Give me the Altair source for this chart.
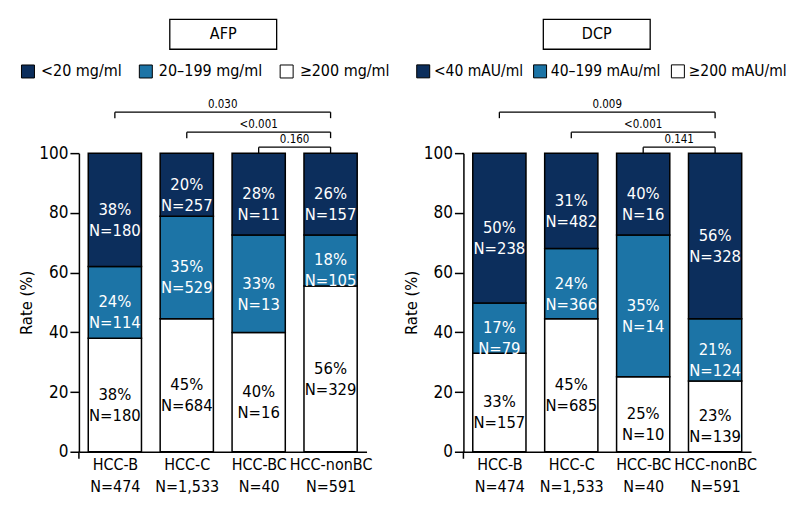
import json
import altair as alt
import pandas as pd

FONT = "DejaVu Sans Condensed"
DARK = "#0c2e5c"
MID = "#1c74a6"

groups = ["HCC-B", "HCC-C", "HCC-BC", "HCC-nonBC"]
group_n = ["N=474", "N=1,533", "N=40", "N=591"]

# AFP panel (heights as drawn, labels as printed)
afp_levels = ["<20 mg/ml", "20\u2013199 mg/ml", "\u2265200 mg/ml"]
afp_low = [38.0, 21.1, 27.4, 27.4]
afp_mid = [24.0, 34.4, 32.7, 17.1]
afp_high = [38.0, 44.5, 39.9, 55.5]
afp_low_pct = ["38%", "20%", "28%", "26%"]
afp_low_n = [180, 257, 11, 157]
afp_mid_pct = ["24%", "35%", "33%", "18%"]
afp_mid_n = [114, 529, 13, 105]
afp_high_pct = ["38%", "45%", "40%", "56%"]
afp_high_n = [180, 684, 16, 329]
afp_p = ["0.030", "<0.001", "0.160"]

# DCP panel
dcp_levels = ["<40 mAU/ml", "40\u2013199 mAu/ml", "\u2265200 mAU/ml"]
dcp_low = [50.2, 31.9, 27.4, 55.5]
dcp_mid = [16.8, 23.6, 47.5, 20.8]
dcp_high = [33.0, 44.5, 25.1, 23.7]
dcp_low_pct = ["50%", "31%", "40%", "56%"]
dcp_low_n = [238, 482, 16, 328]
dcp_mid_pct = ["17%", "24%", "35%", "21%"]
dcp_mid_n = [79, 366, 14, 124]
dcp_high_pct = ["33%", "45%", "25%", "23%"]
dcp_high_n = [157, 685, 10, 139]
dcp_p = ["0.009", "<0.001", "0.141"]

cmp_start = [0, 1, 2]
cmp_end = [3, 3, 3]

W, H = 288, 299


def build_df(levels, low, mid, high, lp, ln, mp, mn, hp, hn):
    rows = []
    for i in range(len(groups)):
        for order, lvl, v, p, n in [
            (0, levels[2], high[i], hp[i], hn[i]),
            (1, levels[1], mid[i], mp[i], mn[i]),
            (2, levels[0], low[i], lp[i], ln[i]),
        ]:
            rows.append({"idx": i, "group": groups[i], "level": lvl, "order": order,
                         "value": v, "label": f"{p}\nN={n}"})
    return pd.DataFrame(rows)


def panel(df, levels, pvals, title, box_x, leg_x, leg_col_pad, leg_off, leg_fs):
    xs = alt.Scale(domain=[-0.5, 3.5], nice=False, zero=False)
    ys = alt.Scale(domain=[0, 100], nice=False)
    xlabels = json.dumps([[g, n] for g, n in zip(groups, group_n)])
    base = alt.Chart(df).transform_stack(
        stack="value", groupby=["idx"], sort=[alt.SortField("order", "ascending")], as_=["y0", "y1"]
    ).transform_calculate(xl="datum.idx - 0.37", xr="datum.idx + 0.37", ym="(datum.y0 + datum.y1) / 2")

    bars = base.mark_bar(stroke="black", strokeWidth=1.5).encode(
        x=alt.X("xl:Q", scale=xs, axis=alt.Axis(
            values=[0, 1, 2, 3], labelExpr=f"{xlabels}[datum.value]", title=None, ticks=False,
            grid=False, domainColor="black", domainWidth=1.5, labelFont=FONT, labelFontSize=16,
            labelColor="black", labelPadding=5, labelLineHeight=22, labelBaseline="top")),
        x2="xr:Q",
        y=alt.Y("y0:Q", scale=ys, axis=alt.Axis(
            values=list(range(0, 101, 10)), labelExpr="datum.value % 20 == 0 ? datum.label : ''",
            tickSize=9, tickColor="black", tickWidth=1.5, domainColor="black", domainWidth=1.5,
            grid=False, labelFont=FONT, labelFontSize=17, labelColor="black", labelPadding=2,
            title="Rate (%)", titleFont=FONT, titleFontSize=16.5, titleFontWeight="normal",
            titleColor="black", titlePadding=4)),
        y2="y1:Q",
        color=alt.Color("level:N", scale=alt.Scale(domain=levels, range=[DARK, MID, "white"]),
                        legend=alt.Legend(orient="none", legendX=leg_x, legendY=-90,
                                          direction="horizontal", title=None, symbolType="square",
                                          symbolSize=169, symbolStrokeColor="black",
                                          symbolStrokeWidth=1, labelFont=FONT, labelFontSize=leg_fs,
                                          labelColor="black", columnPadding=leg_col_pad,
                                          labelOffset=leg_off, padding=0)),
    )

    labels = base.mark_text(font=FONT, fontSize=16.5, lineBreak="\n", lineHeight=21,
                            baseline="middle").encode(
        x=alt.X("idx:Q", scale=xs),
        y=alt.Y("ym:Q", scale=ys),
        text="label:N",
        color=alt.condition("datum.order == 0", alt.value("black"), alt.value("white")),
    )

    layers = [bars, labels]

    # y axis extension below zero
    ext = alt.Chart(pd.DataFrame({"a": [0]})).mark_rule(color="black", strokeWidth=1.5).encode(
        x=alt.value(0), y=alt.value(H), y2=alt.value(H + 7))
    layers.append(ext)

    bracket_y = [-41, -21, -6]
    for k in range(len(pvals)):
        bdf = pd.DataFrame({"s": [cmp_start[k]], "e": [cmp_end[k]], "p": [pvals[k]]})
        bc = alt.Chart(bdf)
        yk = bracket_y[k]
        hline = bc.mark_rule(color="black", strokeWidth=1.3).encode(
            x=alt.X("s:Q", scale=xs), x2="e:Q", y=alt.value(yk))
        ticks = bc.transform_fold(["s", "e"]).mark_rule(color="black", strokeWidth=1.3).encode(
            x=alt.X("value:Q", scale=xs), y=alt.value(yk), y2=alt.value(yk + 6))
        txt = bc.transform_calculate(m="(datum.s + datum.e) / 2").mark_text(
            font=FONT, fontSize=11.5, baseline="alphabetic", color="black").encode(
            x=alt.X("m:Q", scale=xs), y=alt.value(yk - 4), text="p:N")
        layers += [hline, ticks, txt]

    box = alt.Chart(pd.DataFrame({"t": [title]})).mark_rect(
        fill="white", stroke="black", strokeWidth=1.3).encode(
        x=alt.value(box_x), x2=alt.value(box_x + 107), y=alt.value(-134), y2=alt.value(-104))
    box_t = alt.Chart(pd.DataFrame({"t": [title]})).mark_text(
        font=FONT, fontSize=16, baseline="middle", color="black").encode(
        x=alt.value(box_x + 53.5), y=alt.value(-119), text="t:N")
    layers += [box, box_t]

    return alt.layer(*layers).properties(width=W, height=H)


afp_df = build_df(afp_levels, afp_low, afp_mid, afp_high, afp_low_pct, afp_low_n,
                  afp_mid_pct, afp_mid_n, afp_high_pct, afp_high_n)
dcp_df = build_df(dcp_levels, dcp_low, dcp_mid, dcp_high, dcp_low_pct, dcp_low_n,
                  dcp_mid_pct, dcp_mid_n, dcp_high_pct, dcp_high_n)

left = panel(afp_df, afp_levels, afp_p, "AFP", 91, -59, 15, 5, 16)
right = panel(dcp_df, dcp_levels, dcp_p, "DCP", 80, -48, 8, 3, 15.5)

chart = alt.hconcat(left, right, spacing=12).resolve_scale(
    color="independent", x="independent", y="independent"
).resolve_legend(color="independent").configure(
    padding={"left": 10, "top": 10, "right": 5, "bottom": 5}
).configure_view(stroke=None)

chart.save("out.html", embed_options={"renderer": "svg", "actions": False})
